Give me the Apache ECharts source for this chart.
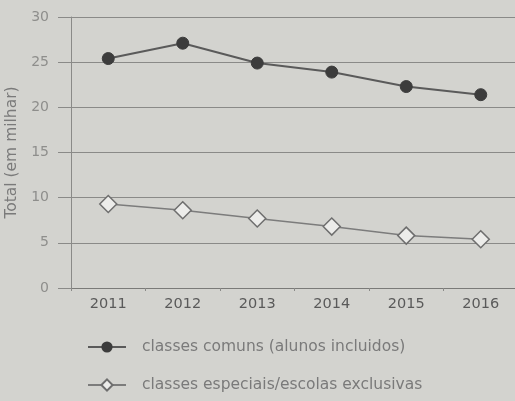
<!DOCTYPE html>
<html>
<head>
<meta charset="utf-8">
<script src="https://cdn.jsdelivr.net/npm/echarts@6/dist/echarts.min.js"></script>
<style>
html,body{margin:0;padding:0;background:#d3d3cf;}
#c{width:515px;height:401px;}
</style>
</head>
<body>
<div id="c"></div>
<script>
const years = ['2011','2012','2013','2014','2015','2016'];
const comuns = [25.4, 27.1, 24.9, 23.9, 22.3, 21.4];
const especiais = [9.3, 8.6, 7.7, 6.8, 5.8, 5.4];
const yTicks = [0, 5, 10, 15, 20, 25, 30];
const seriesNames = ['classes comuns (alunos incluidos)', 'classes especiais/escolas exclusivas'];
const yName = 'Total (em milhar)';

const chart = echarts.init(document.getElementById('c'), null, {renderer: 'canvas'});
const font = '"DejaVu Sans", Verdana, sans-serif';
chart.setOption({
  backgroundColor: '#d3d3cf',
  animation: false,
  grid: {left: 71, top: 17, width: 447, height: 271, containLabel: false, outerBoundsMode: 'none'},
  xAxis: {
    type: 'category',
    data: years,
    boundaryGap: true,
    axisLine: {show: true, lineStyle: {color: '#7a7a78', width: 1}},
    axisTick: {show: true, length: 3, lineStyle: {color: '#8a8a88'}},
    axisLabel: {margin: 9, fontSize: 14.5, color: '#5a5a5a', fontFamily: font}
  },
  yAxis: {
    type: 'value',
    min: yTicks[0],
    max: yTicks[yTicks.length - 1],
    interval: 5,
    name: yName,
    nameLocation: 'middle',
    nameGap: 43,
    nameTextStyle: {fontSize: 15.5, color: '#7a7a7a', fontFamily: font},
    axisLine: {show: true, lineStyle: {color: '#8a8a88', width: 1}},
    axisTick: {show: true, length: 13, lineStyle: {color: '#8a8a88'}},
    axisLabel: {margin: 22, fontSize: 14, color: '#8e8e8c', fontFamily: font},
    splitLine: {show: true, lineStyle: {color: '#8a8a88', width: 1.2}}
  },
  legend: {
    orient: 'vertical',
    left: 82,
    top: 334,
    itemWidth: 38,
    itemHeight: 14,
    itemGap: 22,
    data: seriesNames,
    textStyle: {fontSize: 15.5, color: '#7a7a7a', fontFamily: font, padding: [0, 0, 0, 11]}
  },
  series: [
    {
      name: seriesNames[0],
      type: 'line',
      data: comuns,
      symbol: 'circle',
      symbolSize: 12,
      lineStyle: {color: '#5a5a5a', width: 2},
      itemStyle: {color: '#3c3c3c', borderColor: '#3c3c3c'}
    },
    {
      name: seriesNames[1],
      type: 'line',
      data: especiais,
      symbol: 'diamond',
      symbolSize: 17,
      lineStyle: {color: '#7c7c7c', width: 1.5},
      itemStyle: {color: '#ececea', borderColor: '#6e6e6e', borderWidth: 1.5}
    }
  ]
});
</script>
</body>
</html>
